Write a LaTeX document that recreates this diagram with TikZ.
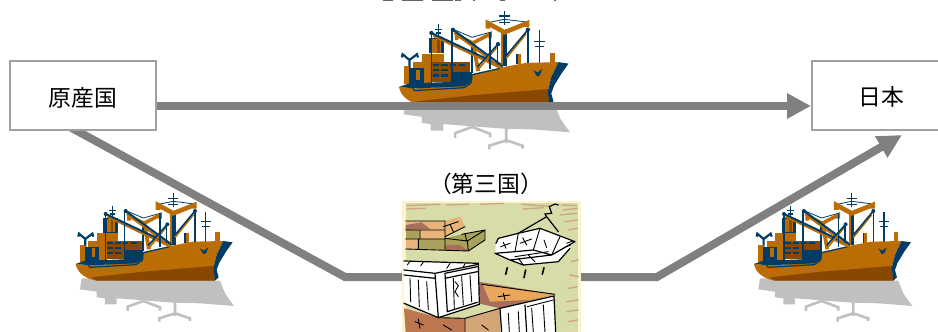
\documentclass[tikz,border=0pt]{standalone}
\usepackage{fontspec}
\setmainfont{Noto Sans CJK JP}
\usetikzlibrary{arrows.meta,calc}
\pgfdeclarelayer{under}
\pgfsetlayers{under,main}
\definecolor{hullor}{HTML}{B96D04}
\definecolor{hulldk}{HTML}{8A4700}
\definecolor{navy}{HTML}{003C66}
\definecolor{shad}{HTML}{C0C0C0}
\definecolor{barg}{HTML}{808080}
\definecolor{boxg}{HTML}{A0A0A0}
\definecolor{creamf}{HTML}{FDF3CC}
\definecolor{sage}{HTML}{D8DCA8}
\definecolor{tanb}{HTML}{E8B47C}
\definecolor{brownb}{HTML}{A86F5C}
\definecolor{olive}{HTML}{A8A25C}
\definecolor{rust}{HTML}{BC7650}
\definecolor{sand}{HTML}{D2A678}
\definecolor{oranget}{HTML}{E9A75C}
\definecolor{streak}{HTML}{CDA882}
\tikzset{
  box/.style={draw=boxg,line width=2pt,fill=white,inner sep=0pt},
  lbl/.style={inner sep=0pt,font=\fontsize{22.8}{26}\selectfont},
  bar/.style={draw=barg,line width=8pt,line join=miter},
  wire/.style={draw=navy,line width=1.3pt},
  wirethin/.style={draw=navy,line width=.8pt},
  orng/.style={draw=hullor,line width=2.6pt},
  ink/.style={draw=black,line width=.9pt,line cap=round},
  streaks/.style={draw=streak,line width=1.4pt,line cap=round},
  shadl/.style={draw=shad,line width=2.6pt},
}
\newcommand{\shipart}[3]{%
\begin{scope}[shift={(#1,#2)},scale=#3]
% shadow
\fill[shad] (65,265)--(480,272)--(495,310)--(522,348)--(420,340)--(340,338)--(170,325)--(170,343)--(135,343)--(135,325)--(110,322)--(110,305)--(60,298)--cycle;
\draw[shadl] (345,335)--(345,378) (298,395)--(298,385)--(345,370)--(390,385)--(390,393);
\draw[shadl] (203,363)--(203,350)--(250,333)--(300,352)--(300,362);
% right mast and bollards
\draw[wire] (437,65)--(437,155) (423,95)--(452,95) (425,110)--(450,110);
\fill[hullor] (466,127) rectangle (480,155);
\fill[hullor] (373,130) rectangle (386,158);
\fill[navy] (373,130) rectangle (377,158);
% main kingpost
\draw[wire] (340,10)--(340,50) (325,25)--(355,25) (325,43)--(355,43);
\draw[wirethin] (300,42)--(340,34)--(405,42);
\fill[navy] (336,66) rectangle (348,165);
\draw[orng,line width=4.6pt,line join=miter] (294,60)--(294,45)--(340,70)--(403,45)--(403,56);
\fill[hullor] (331,68) rectangle (337,165);
% second kingpost
\draw[wirethin] (198,62)--(250,84)--(300,70);
\draw[orng,line width=3.6pt,line join=miter] (207,92)--(207,78)--(252,100)--(300,75)--(300,86);
\draw[orng,line width=3.8pt] (253,100)--(267,178);
\draw[wire,line width=1.6pt] (249,105)--(249,182);
% funnel and small mast
\draw[wire] (157,47)--(157,85) (147,62)--(167,62) (150,72)--(165,72);
\fill[navy] (130,85) rectangle (173,128);
\fill[hullor] (140,88) rectangle (165,127);
\fill[hulldk] (153,90) rectangle (160,127);
% anchor frame
\draw[navy,line width=2.2pt] (55,140)--(57,131)--(76,147)--(97,131)--(100,140) (76,147)--(76,170);
% superstructure
\fill[hullor] (110,130) rectangle (173,152);
\fill[hullor] (85,152) rectangle (140,212);
\fill[hullor] (60,165) rectangle (76,215);
\fill[navy] (75,170) rectangle (88,222);
\fill[navy] (88,170) rectangle (116,212);
\fill[hullor] (95,175) rectangle (106,202);
\fill[hullor] (116,178) rectangle (128,212);
\fill[hulldk] (140,152) rectangle (245,180);
\fill[hulldk] (140,180) rectangle (195,208);
\fill[navy] (195,180) rectangle (250,212);
\foreach \wx/\wy in {141/157,165/157,188/157,213/157,141/172,165/172,141/187,165/187}
  \fill[navy] (\wx,\wy) rectangle ++(17,6.5);
% hull
\fill[hullor] (47,222)--(90,226)--(228,218)--(248,205)--(250,186)--(330,168)--(400,155)--(490,153)--(470,195)--(460,235)--(465,272)--(110,272)..controls (80,268) and (52,250)..(47,222)--cycle;
\fill[hulldk] (95,262)--(250,245)--(460,228)--(465,272)--(110,272)--cycle;
\fill[navy] (490,153)--(518,157)--(498,185)--(478,218)--(470,240)--(476,262)--(465,272)--(460,235)--(470,195)--cycle;
\fill[navy] (47,222)--(75,212)--(250,206)--(252,196)--(250,206)--(228,220)--(90,226)--cycle;
\draw[navy,line width=1.2pt] (85,226)--(90,232)--(228,224)--(247,211)--(250,188)--(330,170);
\fill[navy] (420,175)--(432,182)--(445,172)--(438,190)--(430,192)--cycle;
% booms and wires
\draw[orng,line width=2pt] (142,80)--(335,172);
\draw[wire,line width=2pt] (137,72)--(335,165);
\draw[orng,line width=2pt] (200,72)--(330,168);
\draw[wire,line width=2pt] (197,63)--(330,160);
\draw[orng,line width=1.8pt] (318,112)--(268,172);
\draw[wire,line width=1.6pt] (322,103)--(265,166);
\draw[orng,line width=1.8pt] (400,74)--(345,142);
\draw[wire,line width=1.6pt] (405,63)--(345,135);
\draw[wire] (137,72)--(137,210) (194,63)--(194,218) (300,70)--(300,172) (405,63)--(405,155) (320,103)--(320,160);
\fill[navy] (137,72) circle (6) (197,63) circle (6) (322,103) circle (6) (405,63) circle (6);
\end{scope}}
\begin{document}
\begin{tikzpicture}[x=1pt,y=-1pt]
\useasboundingbox (0,0) rectangle (938,332);
\clip (0,0) rectangle (938,332);
\coordinate (bary) at (0,106);
\coordinate (kneeL) at (345,277);
\coordinate (kneeR) at (657,277);
\coordinate (tipR) at (902,135);
\coordinate (crateY) at (0,277);
% clipped remains of the top line
\fill[black!60] (383,0) rectangle (393,.9) (402,0) rectangle (423,.9) (432,0) rectangle (453,.9) (455,0) rectangle (461,.9) (473,0) rectangle (475,.9) (500,0) rectangle (505,.9) (554,0) rectangle (556,.9);
% boxes
\node[box,minimum width=146pt,minimum height=69pt] (o) at (83,95.5) {};
\node[lbl] (ot) at (83,98) {原産国};
\node[box,minimum width=170pt,minimum height=69pt,anchor=west] (j) at (811,95.5) {};
\node[lbl] (jt) at (881,97) {日本};
\node[lbl] (third) at (486,184) {（第三国）};
\node[inner sep=0pt,minimum width=177pt,minimum height=132pt] (crate) at (491.5,266) {};
% ships and connectors
\begin{pgfonlayer}{under}
\shipart{382.07}{7.07}{0.36}
\shipart{60}{190}{0.3333}
\shipart{738.3}{190}{0.3333}
\draw[bar,-{Triangle[length=24pt,width=24pt]}] (o.east |- bary) -- (j.west |- bary);
\draw[bar] ($(o.south west)!0.46!(o.south east)+(-9,-5)$) -- (kneeL) -- (crate.west |- crateY);
\draw[bar,-{Triangle[length=24pt,width=23pt]}] (crate.east |- crateY) -- (kneeR) -- (tipR);
\end{pgfonlayer}
% crate picture, drawn on its node
\begin{scope}[shift={(390,165)},scale=.3333]
\fill[creamf] (37,107) rectangle (572,501);
\fill[sage] (47,115) rectangle (565,501);
\draw[streaks] (50,122)--(150,118) (170,120)--(235,118) (50,132)--(105,130) (270,118)--(340,115) (395,118)--(480,124) (400,132)--(460,128) (515,120)--(560,122) (520,135)--(562,130) (510,150)--(560,145) (525,170)--(562,165) (535,195)--(562,190) (545,290)--(565,285) (540,330)--(565,335) (535,370)--(562,365) (530,410)--(565,405) (530,440)--(565,435) (535,470)--(562,465);
% bricks
\fill[tanb] (47,168)--(165,168)--(165,195)--(47,195)--cycle;
\fill[brownb] (47,180)--(95,172)--(120,192)--(47,195)--cycle;
\fill[olive] (47,195) rectangle (90,222);
\fill[tanb] (90,195) rectangle (165,222);
\fill[tanb] (47,222) rectangle (85,252);
\fill[olive] (85,222)--(165,222)--(165,255)--(85,252)--cycle;
\fill[tanb] (160,168)--(212,155)--(225,185)--(165,215)--cycle;
\fill[olive] (165,220)--(215,208)--(285,195)--(285,225)--(235,258)--(165,255)--cycle;
\fill[brownb] (165,240)--(210,240)--(235,258)--(165,255)--cycle;
\draw[ink] (47,168)--(165,168)--(165,255) (47,195)--(165,195) (47,222)--(165,222) (47,252)--(235,258)--(285,225)--(285,195)--(215,208) (90,195)--(90,222) (85,222)--(85,252) (165,220)--(232,228)--(285,195) (232,228)--(235,258) (165,215)--(225,185) (180,178)--(190,200) (160,185)--(205,170) (225,205)--(230,228);
% hanging crate
\draw[ink,line width=1.2pt] (385,205)--(470,155)--(505,200) (470,155)--(465,147)--(485,145)--(478,125)--(495,117)--(505,120);
\fill[white] (318,235)--(325,220)--(385,205)--(450,190)--(555,230)--(505,290)--(400,300)--(360,285)--(315,265)--cycle;
\draw[ink,line width=1.2pt] (318,235)--(325,220)--(385,205)--(450,190)--(555,230) (315,265)--(375,260)--(430,255)--(485,270)--(555,230) (315,265)--(360,285)--(485,270) (360,285)--(400,300)--(505,290)--(540,250);
\draw[ink] (385,205)--(375,260) (450,190)--(430,255) (510,215)--(485,270) (375,275)--(475,260) (400,300)--(385,280) (435,290)--(415,270) (340,232)--(348,250) (332,245)--(360,235) (398,218)--(410,240) (390,235)--(425,222) (462,225)--(470,248) (530,235)--(548,228) (528,245)--(543,240);
\draw[ink,line width=1.6pt] (352,308)--(347,328) (407,315)--(402,338) (462,308)--(457,328);
% lower goods
\fill[rust] (42,430)--(145,458)--(225,460)--(225,501)--(47,501)--cycle;
\fill[sand] (225,460)--(330,430)--(330,501)--(225,501)--cycle;
\fill[brownb] (265,350)--(495,388)--(330,430)--(265,415)--cycle;
\fill[oranget] (278,358)--(495,388)--(420,405)--(300,410)--cycle;
\fill[white] (42,288)--(265,295)--(268,418)--(145,458)--(42,410)--cycle;
\draw[ink,line width=1.2pt] (42,288)--(265,295)--(268,418)--(145,458)--(42,415) (42,315)--(135,325)--(145,458) (42,330)--(135,340) (135,325)--(265,298) (165,325)--(262,305) (165,325)--(172,440)--(262,412) (165,340)--(262,320);
\draw[ink] (60,340)--(62,410) (85,345)--(88,425) (110,350)--(115,435) (190,340)--(193,430) (215,335)--(220,420) (240,330)--(245,410) (60,288)--(52,300) (100,292)--(92,302) (180,295)--(170,310) (225,296)--(220,306) (195,350)--(205,362)--(195,380)--(205,395);
\draw[ink] (225,460)--(330,430) (225,460)--(225,501) (145,458)--(225,460) (275,358)--(495,388) (75,470)--(100,480) (85,462)--(90,490) (275,480)--(295,495) (160,480)--(185,495) (325,395)--(360,390) (340,385)--(345,405);
\fill[white] (330,430)--(492,393)--(497,501)--(335,501)--cycle;
\draw[ink,line width=1.2pt] (330,430)--(492,393)--(497,501) (330,430)--(335,501) (405,420)--(410,501);
\draw[ink] (355,445)--(358,501) (385,440)--(388,501) (425,430)--(430,501) (460,420)--(465,501) (412,425)--(490,405);
\end{scope}
\end{tikzpicture}
\end{document}
